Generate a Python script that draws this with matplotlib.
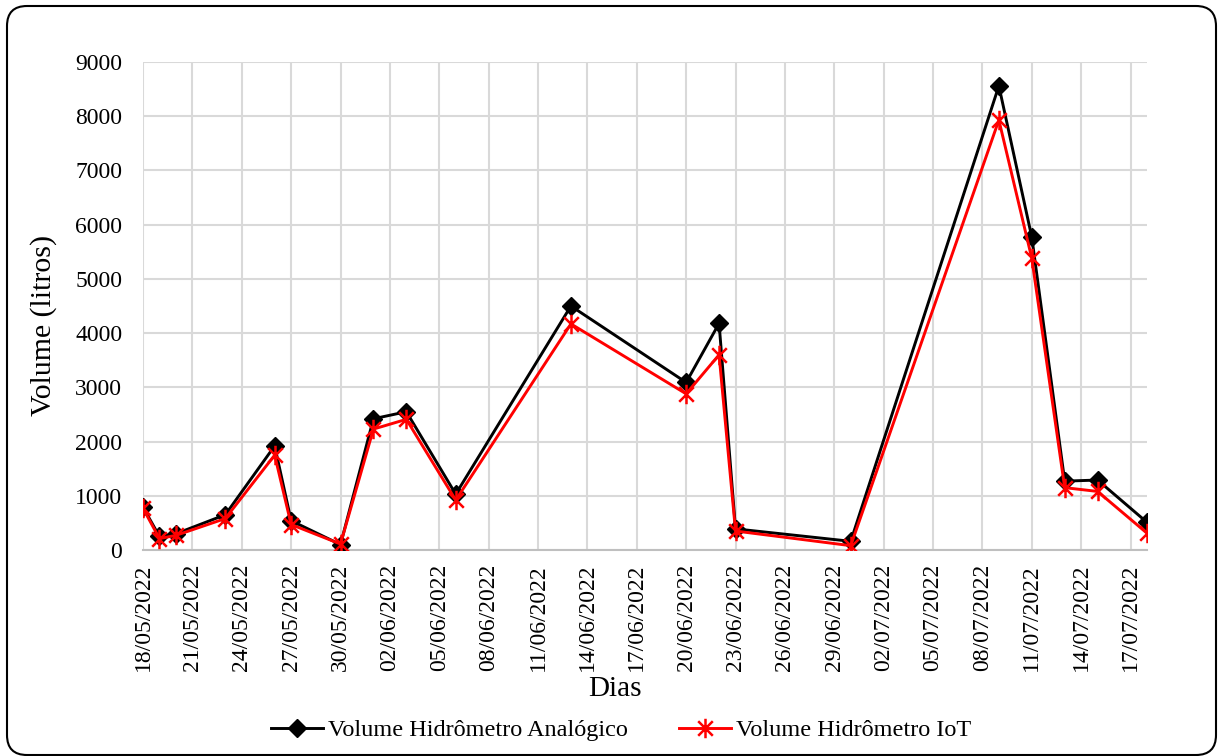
import numpy as np
import matplotlib.pyplot as plt
import matplotlib.dates as mdates
from matplotlib.patches import FancyBboxPatch
from matplotlib.path import Path
from matplotlib.transforms import IdentityTransform
from datetime import datetime, timedelta

plt.rcParams['font.family'] = ['Liberation Serif', 'DejaVu Serif']

# Data
dias = ['18/05/2022', '19/05/2022', '20/05/2022', '23/05/2022', '26/05/2022',
        '27/05/2022', '30/05/2022', '01/06/2022', '03/06/2022', '06/06/2022',
        '13/06/2022', '20/06/2022', '22/06/2022', '23/06/2022', '30/06/2022',
        '09/07/2022', '11/07/2022', '13/07/2022', '15/07/2022', '18/07/2022']
analogico = [790, 250, 300, 650, 1920, 540, 100, 2420, 2550, 1030,
             4500, 3090, 4180, 390, 160, 8560, 5770, 1270, 1290, 510]
iot = [770, 210, 270, 580, 1750, 470, 110, 2230, 2410, 920,
       4170, 2880, 3600, 350, 80, 7930, 5380, 1150, 1080, 310]

datas = [datetime.strptime(d, '%d/%m/%Y') for d in dias]
inicio = datetime(2022, 5, 18)
fim = datetime(2022, 7, 18)
ticks = [inicio + timedelta(days=3 * i) for i in range(21)]

# star marker like Excel's (X plus vertical bar)
estrela = Path([(0, -1), (0, 1), (-0.75, -0.75), (0.75, 0.75), (-0.75, 0.75), (0.75, -0.75)],
               [Path.MOVETO, Path.LINETO, Path.MOVETO, Path.LINETO, Path.MOVETO, Path.LINETO])

fig = plt.figure(figsize=(12.18, 7.56), dpi=100)
ax = fig.add_axes([143 / 1218, 1 - 550 / 756, (1147 - 143) / 1218, (550 - 62) / 756])

ax.plot(datas, analogico, color='black', lw=2.1, marker='D', markersize=9.5,
        label='Volume Hidrômetro Analógico', zorder=3)
ax.plot(datas, iot, color='#ff0000', lw=2.1, marker=estrela, markersize=14,
        markeredgewidth=1.8, label='Volume Hidrômetro IoT', zorder=4)

ax.set_xlim(inicio, fim)
ax.set_ylim(0, 9000)
ax.set_yticks(np.arange(0, 9001, 1000))
ax.set_xticks(ticks)
ax.xaxis.set_major_formatter(mdates.DateFormatter('%d/%m/%Y'))
plt.setp(ax.get_xticklabels(), rotation=90)
ax.tick_params(axis='both', length=0, labelsize=17)
ax.tick_params(axis='y', pad=15)
ax.tick_params(axis='x', pad=10)
ax.grid(True, color='#d9d9d9', lw=1.5)
ax.set_axisbelow(True)
for s in ['top', 'right', 'left']:
    ax.spines[s].set_visible(False)
ax.spines['bottom'].set_color('#bfbfbf')
ax.spines['bottom'].set_linewidth(1.5)

ax.set_ylabel('Volume (litros)', fontsize=21.5)
ax.yaxis.set_label_coords(-86 / 1004, 0.461)
ax.set_xlabel('Dias', fontsize=21)
ax.xaxis.set_label_coords(0.47, -126 / 488)

fig.legend(loc='center', bbox_to_anchor=(621 / 1218, 1 - 730 / 756), ncol=2,
           frameon=False, fontsize=17.5, handlelength=2.15, columnspacing=2.1,
           handletextpad=0.2)

borda = FancyBboxPatch((7, 1), 1209, 749, boxstyle='round,pad=0,rounding_size=20',
                       transform=IdentityTransform(), facecolor='none',
                       edgecolor='black', lw=1.5)
fig.patches.append(borda)

fig.savefig('out.png', dpi=100)
